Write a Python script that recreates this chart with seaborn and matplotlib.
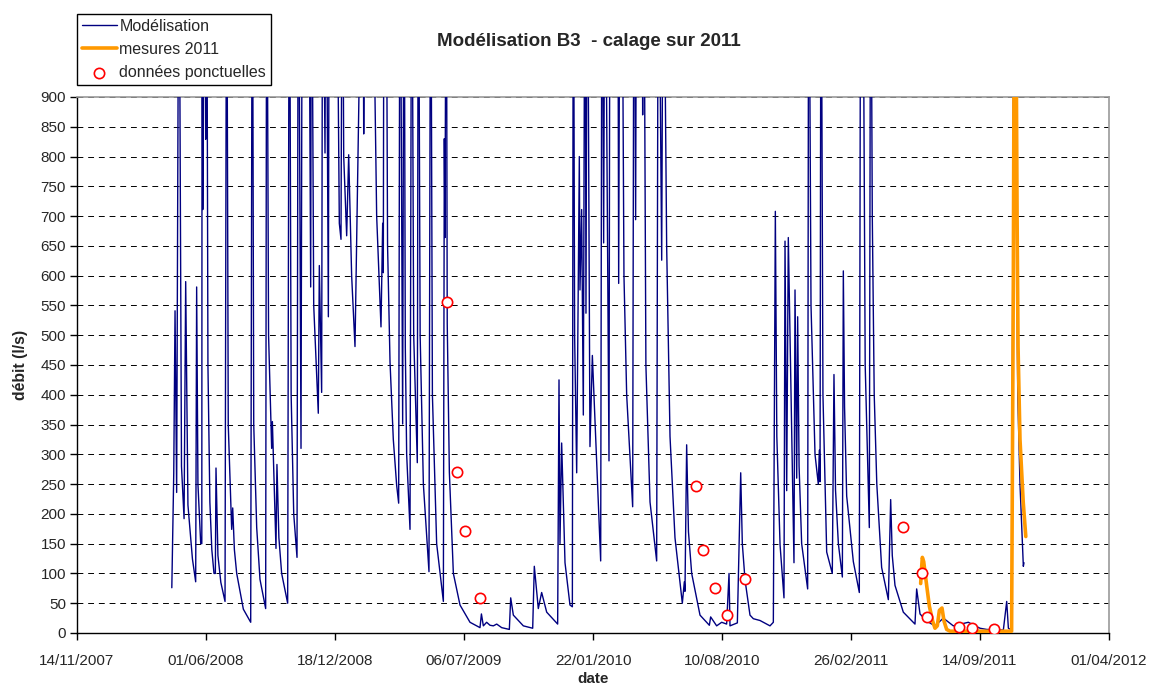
import numpy as np
import pandas as pd
import matplotlib
matplotlib.use("Agg")
import matplotlib.pyplot as plt
import matplotlib.dates as mdates
import seaborn as sns

# ── Data (days counted from 14/11/2007) ───────────────────────────────────────
START = pd.Timestamp("2007-11-14")

# modelled discharge (l/s); values above 900 are off the chart
model_day = [
    147, 150, 152, 154.5, 158, 162, 166, 168.5, 172, 179, 184, 185.5, 187.5, 191.8, 193.5,
    194, 195, 197, 199.5, 201, 203, 206, 209, 212.4, 214.5, 215.5, 218.5, 223, 229.5, 232,
    234.5, 239.8, 241.4, 244, 247.6, 257.9, 269.3, 271.8, 274, 278.6, 283.7, 292.5, 294.1,
    297, 301.8, 302.9, 308.5, 310, 313, 317.3, 326.6, 329.2, 332, 336, 341.1, 343.2, 347.3,
    349.4, 355, 359, 362.3, 363.5, 367, 374.1, 375.7, 379.3, 380.9, 384.5, 386, 389.7, 391.2,
    402, 406.7, 409.3, 411.4, 413.5, 418.1, 421.2, 425.8, 431, 442.9, 444.5, 447, 456.8,
    464.6, 471.3, 473.9, 474.9, 476, 479.1, 481.5, 485.3, 490.4, 495.6, 498.7, 500.8, 504.9,
    507, 509, 511.1, 516.3, 518.9, 522, 527.6, 529.2, 532, 537, 545.7, 548.3, 551, 557.6,
    568, 569.5, 570.5, 572.5, 574, 577.3, 583.5, 593.8, 609.3, 624.8, 627, 630, 635.1,
    640.3, 645.5, 650.7, 658.4, 670.3, 672.4, 676.5, 692, 706.5, 709, 715.2, 720.4, 728.2,
    745.2, 747.3, 748.8, 751.4, 756.6, 764.3, 768, 769.5, 771.5, 774.7, 778.8, 779.8, 782.4,
    785, 787.6, 789.1, 791.2, 795.3, 799, 811.9, 814, 816.5, 818.6, 824.8, 826.4, 838.3,
    839.8, 841.9, 844.5, 848, 852.2, 861.5, 863.6, 866.1, 867.7, 875.5, 877, 878.5, 882,
    888.4, 898.7, 901.3, 906.5, 909, 914.2, 919.4, 927.1, 938.5, 941.6, 942.6, 945.2, 948,
    953, 965.9, 980.4, 982.4, 991.7, 999.5, 1007.2, 1010.9, 1012.4, 1023.8, 1029, 1031.5,
    1035.7, 1043.4, 1048.6, 1058.9, 1064, 1074.4, 1079.6, 1082.7, 1085, 1090, 1096.1,
    1097.7, 1100.3, 1102.8, 1111.6, 1113.2, 1115.8, 1117.3, 1119.5, 1123.5, 1132.8, 1134.4,
    1138, 1144.2, 1149.3, 1150.9, 1152, 1153.5, 1156.5, 1162.3, 1171, 1173.6, 1176, 1180.4,
    1186.6, 1188.1, 1190, 1193.3, 1203.6, 1212.9, 1215, 1218.1, 1222, 1228.4, 1230.5, 1233,
    1236, 1240, 1247.5, 1257.9, 1261.5, 1264, 1268.2, 1281.1, 1299.2, 1301.8, 1307, 1317.3,
    1330.2, 1343.2, 1358.6, 1381.9, 1400, 1410.3, 1436.2, 1441.4, 1444, 1449.1, 1452.7,
    1458.5, 1462, 1467.2, 1468.2,
]
model_val = [
    76, 268, 541, 236, 1300, 280, 192, 590, 215, 124, 86, 581, 250, 150, 150,
    1300, 711, 1300, 829, 1300, 450, 220, 140, 100, 100, 277, 130, 85, 53, 1300,
    350, 174, 210, 140, 100, 40, 18, 1300, 350, 177, 90, 41, 1300,
    500, 310, 355, 142, 283, 160, 100, 50, 1300, 400, 200, 127, 1300, 310,
    1300, 950, 1300, 581, 1300, 550, 369, 617, 404, 1300, 806, 1300, 531, 1300,
    1300, 688, 661, 1300, 800, 667, 803, 600, 481, 1300, 838, 1300, 1300,
    700, 514, 688, 605, 1300, 1300, 650, 455, 325, 248, 218, 1300, 351,
    1300, 480, 300, 174, 1300, 500, 286, 1300, 500, 250, 103, 1300, 400, 150,
    53, 830, 664, 1300, 520, 270, 100, 47, 18, 9, 32, 12, 18,
    13, 12, 15, 9, 6, 59, 30, 12, 8, 112, 41, 68, 35,
    15, 425, 150, 319, 118, 47, 44, 1300, 500, 269, 800, 576, 711,
    366, 1300, 537, 1300, 313, 466, 121, 1300, 655, 1300, 289, 1300, 1300,
    587, 1300, 1300, 600, 400, 212, 1300, 694, 1300, 1300, 870, 1300, 450,
    220, 121, 1300, 626, 1300, 650, 330, 160, 50, 86, 70, 316, 170,
    100, 30, 13, 27, 12, 18, 15, 100, 12, 17, 269, 150,
    89, 30, 24, 21, 18, 12, 18, 708, 330, 148, 59,
    658, 239, 664, 118, 576, 260, 531, 280, 150, 74, 1300,
    550, 300, 250, 307, 254, 1300, 400, 136, 100, 434, 240, 150,
    94, 608, 380, 230, 120, 68, 1300, 1300, 450, 177, 1300, 700,
    400, 250, 110, 56, 224, 130, 80, 35, 15, 74, 32, 20,
    12, 25, 12, 18, 8, 6, 5, 53, 8, 5, 1300,
    400, 250, 112, 118,
]

# measured discharge 2011 (l/s)
meas_day = [1308, 1309.5, 1310.6, 1312.7, 1317.3, 1321.5, 1326.6, 1330.2, 1333.8, 1337,
            1341.1, 1344.2, 1348.3, 1353.6, 1369, 1395, 1449, 1451.7, 1453.5, 1456,
            1457.5, 1459, 1462, 1467, 1471]
meas_val = [83, 110, 127, 120, 80, 45, 20, 8, 12, 38,
            42, 20, 6, 3, 3, 3, 3, 600, 1200, 1000,
            700, 480, 325, 220, 162]

# spot gaugings (l/s)
spot_day = [573.6, 588.6, 602, 624.8, 959.2, 971, 989, 1008, 1036, 1281, 1310.6, 1318.3,
            1367, 1387, 1422]
spot_val = [556, 270, 171, 59, 246, 140, 76, 31, 90, 178, 101, 27, 10, 8, 7]

tick_days = [0, 200, 400, 600, 800, 1000, 1200, 1400, 1600]


def to_dates(days):
    return START + pd.to_timedelta(np.asarray(days, dtype=float), unit="D")


# ── Figure ────────────────────────────────────────────────────────────────────
sns.set_theme(style="white")
plt.rcParams["font.family"] = ["Liberation Sans", "DejaVu Sans"]

fig = plt.figure(figsize=(11.51, 6.88), dpi=100)
ax = fig.add_axes([77 / 1151, 1 - 633 / 688, (1109 - 77) / 1151, (633 - 97) / 688])

sns.lineplot(x=to_dates(model_day), y=model_val, ax=ax, color="#000080", linewidth=1.0,
             sort=False, estimator=None, label="Modélisation", zorder=3)
sns.lineplot(x=to_dates(meas_day), y=meas_val, ax=ax, color="#FF9900", linewidth=2.6,
             sort=False, estimator=None, label="mesures 2011", zorder=4)
sns.scatterplot(x=to_dates(spot_day), y=spot_val, ax=ax, marker="o", s=55,
                facecolor="white", edgecolor="#FF0000", linewidth=1.2,
                label="données ponctuelles", zorder=5)

ax.set_ylim(0, 900)
ax.set_yticks(np.arange(0, 901, 50))
ax.set_xlim(to_dates([0])[0], to_dates([1600])[0])
ax.set_xticks(to_dates(tick_days))
ax.xaxis.set_major_formatter(mdates.DateFormatter("%d/%m/%Y"))

ax.yaxis.grid(True, color="black", linestyle=(0, (6, 5)), linewidth=0.7)
ax.xaxis.grid(False)
for side in ["top", "right"]:
    ax.spines[side].set_color("#999999")
    ax.spines[side].set_linewidth(1.2)
for side in ["left", "bottom"]:
    ax.spines[side].set_color("black")
    ax.spines[side].set_linewidth(1.0)
ax.tick_params(axis="both", direction="out", length=5, width=1, color="black",
               labelsize=11, pad=3, left=True, bottom=True)
ax.tick_params(axis="x", pad=10)

ax.set_xlabel("date", fontsize=11, fontweight="bold", labelpad=3)
ax.set_ylabel("débit (l/s)", fontsize=11.3, fontweight="bold", labelpad=9)
fig.text(589 / 1151, 1 - 42 / 688, "Modélisation B3  - calage sur 2011", ha="center",
         va="center", fontsize=13.5, fontweight="bold")

handles, labels = ax.get_legend_handles_labels()
if ax.get_legend() is not None:
    ax.get_legend().remove()
leg = fig.legend(handles, labels, loc="upper left", bbox_to_anchor=(77 / 1151, 1 - 14 / 688),
                 borderaxespad=0, frameon=True, fancybox=False, edgecolor="black",
                 framealpha=1, fontsize=11.5, handlelength=2.2, handletextpad=0.15,
                 labelspacing=0.5, borderpad=0.3)
leg.get_frame().set_linewidth(1.0)

fig.savefig("out.png", dpi=100)
